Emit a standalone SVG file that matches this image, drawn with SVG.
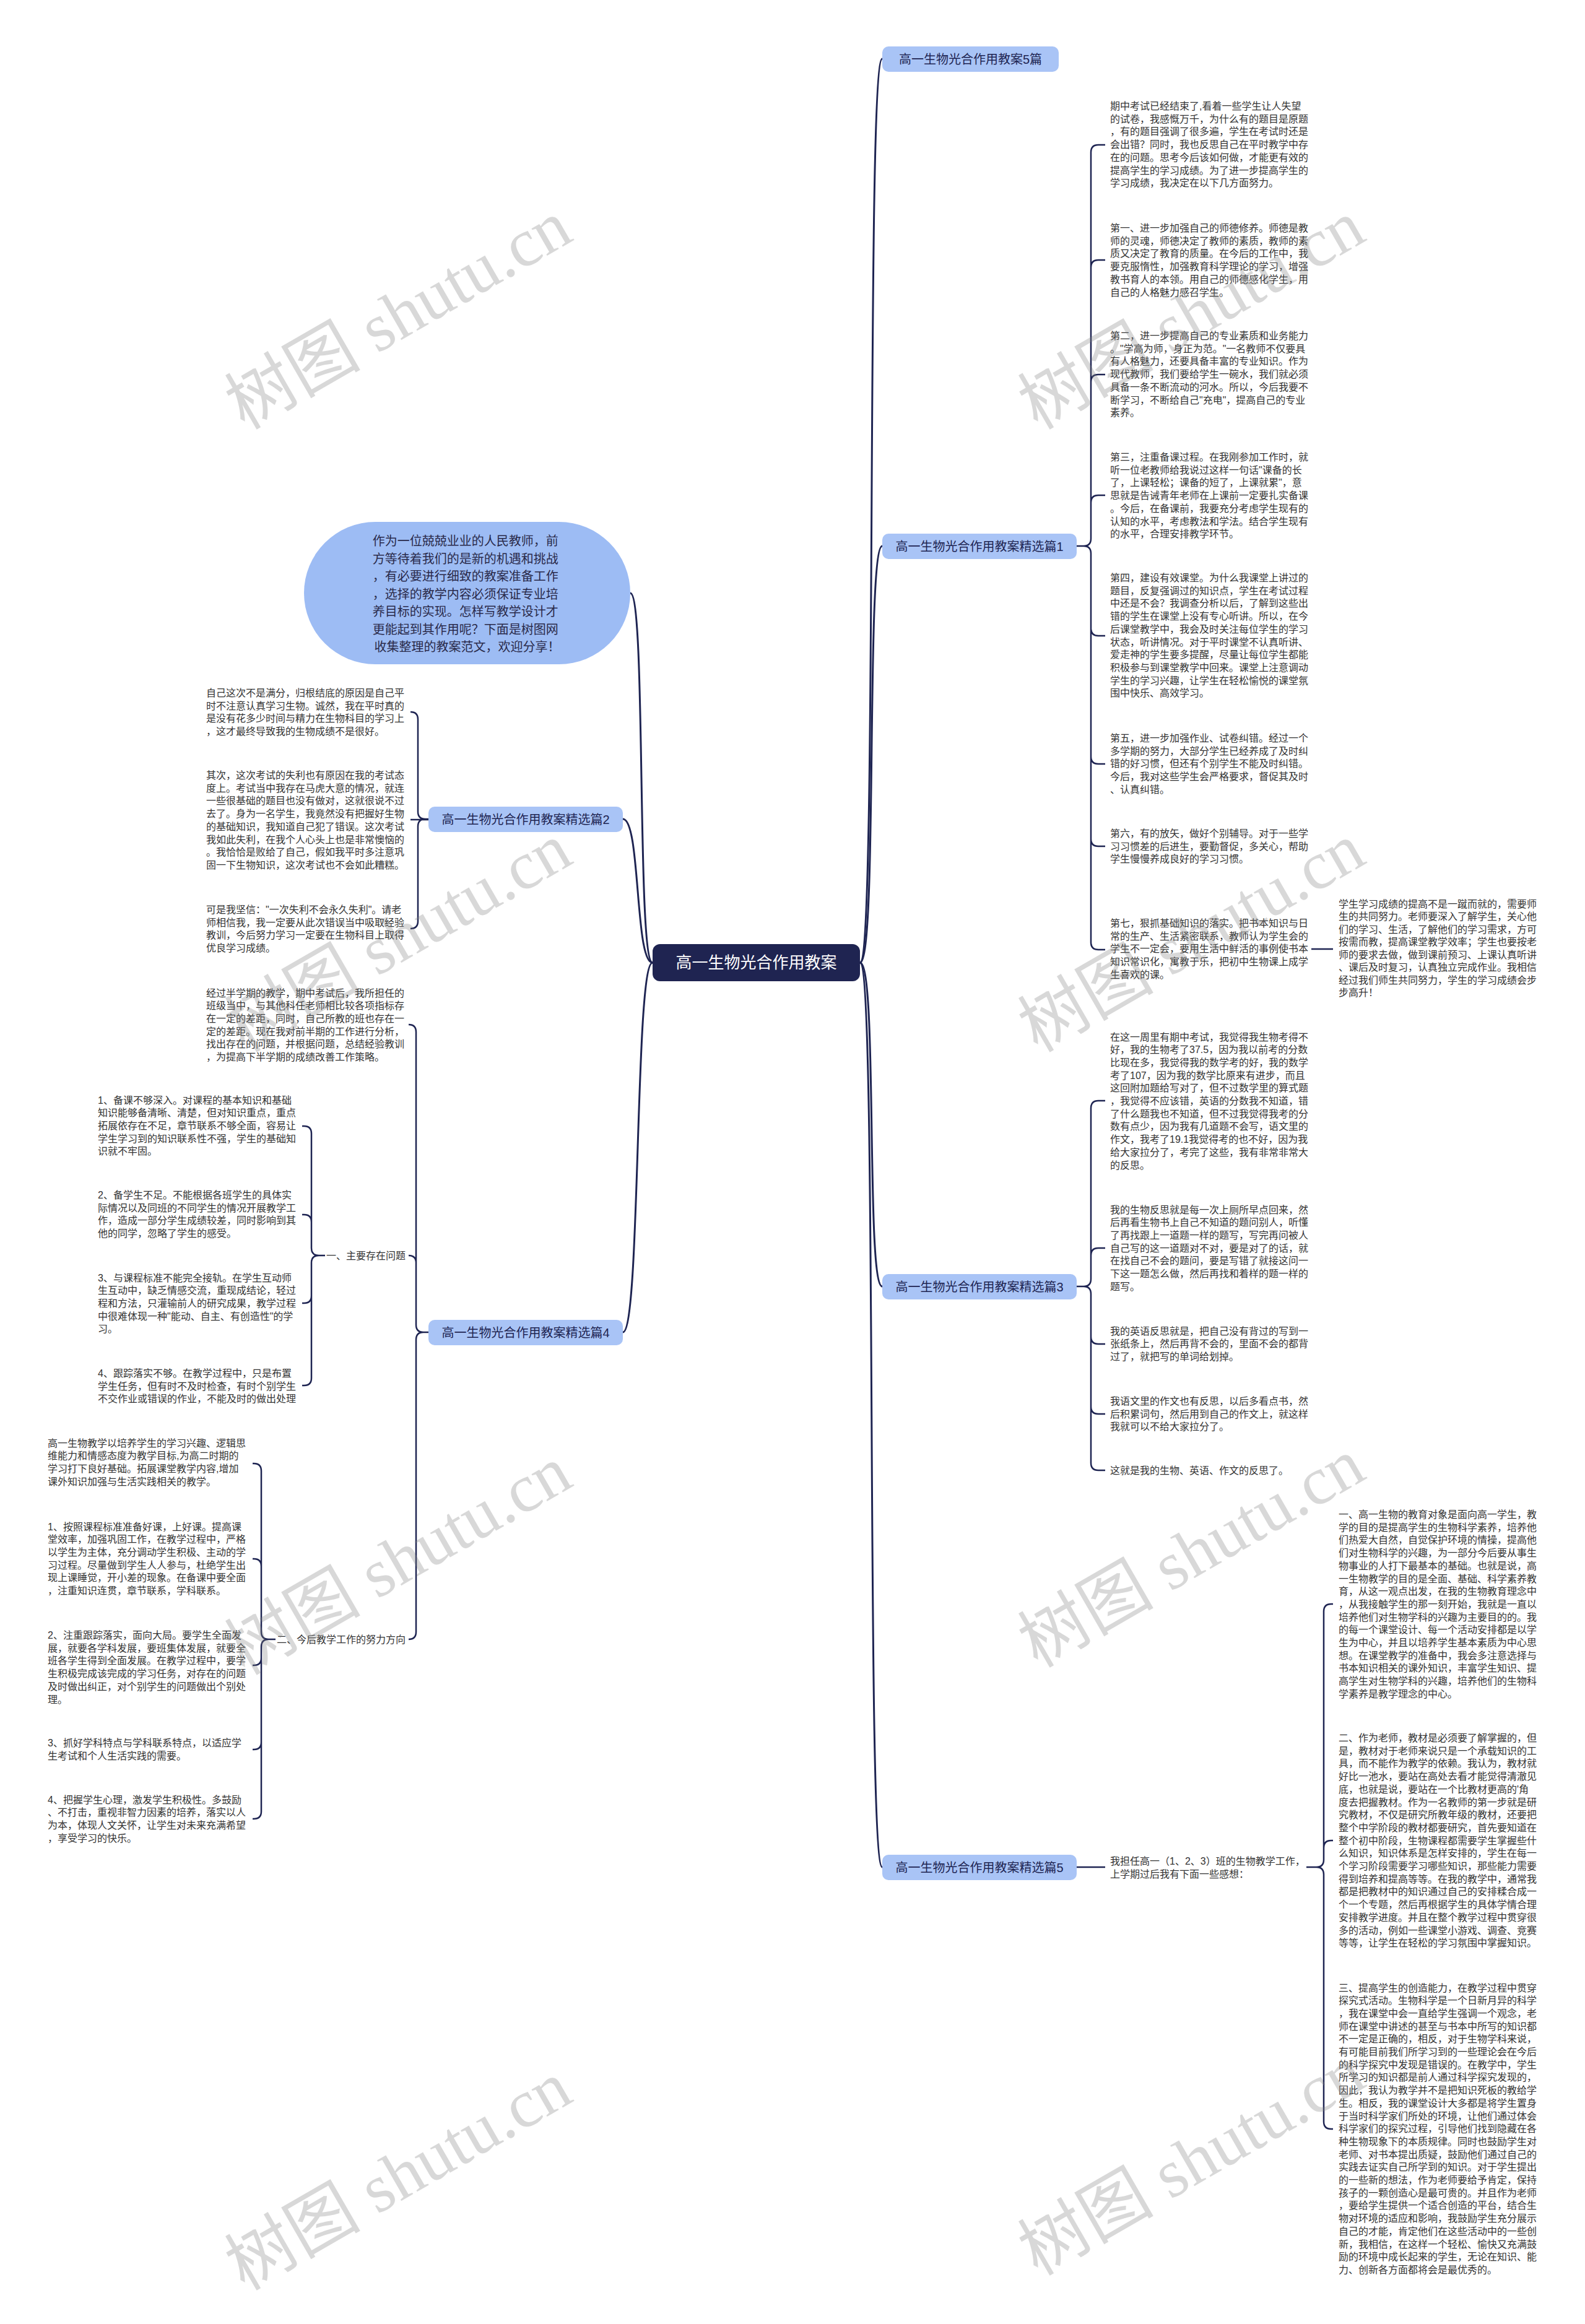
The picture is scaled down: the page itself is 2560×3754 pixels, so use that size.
<svg xmlns="http://www.w3.org/2000/svg" width="2560" height="3754" viewBox="0 0 2560 3754">
<style>
.t{font-family:"Liberation Sans","Noto Sans CJK SC",sans-serif;font-size:16px;fill:#333}
.b{font-family:"Liberation Sans","Noto Sans CJK SC",sans-serif;font-size:20px;fill:#1e2452}
.lbl{font-family:"Liberation Sans","Noto Sans CJK SC",sans-serif;font-size:16px;fill:#333;text-anchor:end}
.c{fill:none;stroke:#1e2452;stroke-width:3}
.c2{fill:none;stroke:#1e2452;stroke-width:2.5}
.node{fill:#a9c4f6}
.wm{font-family:"Liberation Serif","Noto Sans CJK SC",serif;font-size:110px;fill:#808080;opacity:0.3;text-anchor:middle}
</style>
<rect width="2560" height="3754" fill="#fff"/>
<g id="connectors">
<path class="c" d="M1389 1555C1418 1555 1398 95 1425 95"/>
<path class="c" d="M1389 1555C1418 1555 1398 882 1425 882"/>
<path class="c" d="M1389 1555C1418 1555 1398 2078 1425 2078"/>
<path class="c" d="M1389 1555C1418 1555 1398 3016 1425 3016"/>
<path class="c" d="M1054 1555C1028 1555 1044 958 1018 958"/>
<path class="c" d="M1054 1555C1025 1555 1035 1323 1006 1323"/>
<path class="c" d="M1054 1555C1025 1555 1035 2152 1006 2152"/>
<path class="c2" d="M1739 882H1750Q1762 882 1762 870V246Q1762 234 1774 234H1785M1762 432Q1762 420 1774 420H1785M1762 617Q1762 605 1774 605H1785M1762 812Q1762 800 1774 800H1785M1739 882H1750Q1762 882 1762 894V1522Q1762 1534 1774 1534H1785M1762 1015Q1762 1027 1774 1027H1785M1762 1222Q1762 1234 1774 1234H1785M1762 1355Q1762 1367 1774 1367H1785"/>
<path class="c2" d="M2118 1533H2153"/>
<path class="c2" d="M1739 2078H1750Q1762 2078 1762 2066V1790Q1762 1778 1774 1778H1785M1762 2028Q1762 2016 1774 2016H1785M1739 2078H1750Q1762 2078 1762 2090V2363Q1762 2375 1774 2375H1785M1762 2159Q1762 2171 1774 2171H1785M1762 2272Q1762 2284 1774 2284H1785"/>
<path class="c2" d="M1739 3016H1785"/>
<path class="c2" d="M2110 3016H2126Q2138 3016 2138 3004V2603Q2138 2591 2150 2591H2153M2138 2985Q2138 2973 2150 2973H2153M2110 3016H2126Q2138 3016 2138 3028V3427Q2138 3439 2150 3439H2153"/>
<path class="c2" d="M692 1323H687Q675 1323 675 1311V1162Q675 1150 663 1150M692 1323H687Q675 1323 675 1335V1488Q675 1500 663 1500M692 1324H663"/>
<path class="c2" d="M692 2152H684Q672 2152 672 2140V1667Q672 1655 660 1655M672 2040Q672 2028 660 2028M692 2152H684Q672 2152 672 2164V2636Q672 2648 660 2648"/>
<path class="c2" d="M525 2028H515Q503 2028 503 2016V1831Q503 1819 491 1819H488M503 1974Q503 1962 491 1962H488M525 2028H515Q503 2028 503 2040V2226Q503 2238 491 2238H488M503 2093Q503 2105 491 2105H488"/>
<path class="c2" d="M445 2648H434Q422 2648 422 2636V2376Q422 2364 410 2364H408M422 2530Q422 2518 410 2518H408M445 2648H434Q422 2648 422 2660V2926Q422 2938 410 2938H408M422 2678Q422 2690 410 2690H408M422 2814Q422 2826 410 2826H408"/>
</g>
<g id="root">
<rect x="1054" y="1525" width="335" height="60" rx="12" fill="#1f2451"/>
<text x="1221.5" y="1564" text-anchor="middle" style="font-family:'Liberation Sans','Noto Sans CJK SC',sans-serif;font-size:26px;fill:#fff">高一生物光合作用教案</text>
</g>
<g id="intro">
<rect x="491" y="843" width="527" height="230" rx="115" fill="#9dbcf4"/>
<text style="font-family:'Liberation Sans','Noto Sans CJK SC',sans-serif;font-size:20px;fill:#2a2a4a" text-anchor="middle">
<tspan x="754.5" y="881">作为一位兢兢业业的人民教师，前</tspan>
<tspan x="754.5" y="909.5">方等待着我们的是新的机遇和挑战</tspan>
<tspan x="754.5" y="938">，有必要进行细致的教案准备工作</tspan>
<tspan x="754.5" y="966.5">，选择的教学内容必须保证专业培</tspan>
<tspan x="754.5" y="995">养目标的实现。怎样写教学设计才</tspan>
<tspan x="754.5" y="1023.5">更能起到其作用呢？下面是树图网</tspan>
<tspan x="754.5" y="1052">收集整理的教案范文，欢迎分享！</tspan>
</text>
</g>
<g id="b5p">
<rect class="node" x="1425" y="75" width="285" height="41" rx="10"/>
<text class="b" x="1567.5" y="102.5" text-anchor="middle">高一生物光合作用教案5篇</text>
</g>
<g id="b1">
<rect class="node" x="1425" y="862" width="314" height="41" rx="10"/>
<text class="b" x="1582" y="889.5" text-anchor="middle">高一生物光合作用教案精选篇1</text>
</g>
<g id="b3">
<rect class="node" x="1425" y="2058" width="314" height="41" rx="10"/>
<text class="b" x="1582" y="2085.5" text-anchor="middle">高一生物光合作用教案精选篇3</text>
</g>
<g id="b5">
<rect class="node" x="1425" y="2996" width="314" height="41" rx="10"/>
<text class="b" x="1582" y="3023.5" text-anchor="middle">高一生物光合作用教案精选篇5</text>
</g>
<g id="b2">
<rect class="node" x="692" y="1303" width="314" height="41" rx="10"/>
<text class="b" x="849" y="1330.5" text-anchor="middle">高一生物光合作用教案精选篇2</text>
</g>
<g id="b4">
<rect class="node" x="692" y="2132" width="314" height="41" rx="10"/>
<text class="b" x="849" y="2159.5" text-anchor="middle">高一生物光合作用教案精选篇4</text>
</g>
<g id="p1a"><text class="t" x="1793" y="177"><tspan x="1793" dy="0">期中考试已经结束了,看着一些学生让人失望</tspan><tspan x="1793" dy="20.7">的试卷，我感慨万千，为什么有的题目是原题</tspan><tspan x="1793" dy="20.7">，有的题目强调了很多遍，学生在考试时还是</tspan><tspan x="1793" dy="20.7">会出错？同时，我也反思自己在平时教学中存</tspan><tspan x="1793" dy="20.7">在的问题。思考今后该如何做，才能更有效的</tspan><tspan x="1793" dy="20.7">提高学生的学习成绩。为了进一步提高学生的</tspan><tspan x="1793" dy="20.7">学习成绩，我决定在以下几方面努力。</tspan></text></g>
<g id="p1b"><text class="t" x="1793" y="374"><tspan x="1793" dy="0">第一、进一步加强自己的师德修养。师德是教</tspan><tspan x="1793" dy="20.7">师的灵魂，师德决定了教师的素质，教师的素</tspan><tspan x="1793" dy="20.7">质又决定了教育的质量。在今后的工作中，我</tspan><tspan x="1793" dy="20.7">要克服惰性，加强教育科学理论的学习，增强</tspan><tspan x="1793" dy="20.7">教书育人的本领。用自己的师德感化学生，用</tspan><tspan x="1793" dy="20.7">自己的人格魅力感召学生。</tspan></text></g>
<g id="p1c"><text class="t" x="1793" y="548"><tspan x="1793" dy="0">第二，进一步提高自己的专业素质和业务能力</tspan><tspan x="1793" dy="20.7">。"学高为师，身正为范。"一名教师不仅要具</tspan><tspan x="1793" dy="20.7">有人格魅力，还要具备丰富的专业知识。作为</tspan><tspan x="1793" dy="20.7">现代教师，我们要给学生一碗水，我们就必须</tspan><tspan x="1793" dy="20.7">具备一条不断流动的河水。所以，今后我要不</tspan><tspan x="1793" dy="20.7">断学习，不断给自己"充电"，提高自己的专业</tspan><tspan x="1793" dy="20.7">素养。</tspan></text></g>
<g id="p1d"><text class="t" x="1793" y="744"><tspan x="1793" dy="0">第三，注重备课过程。在我刚参加工作时，就</tspan><tspan x="1793" dy="20.7">听一位老教师给我说过这样一句话"课备的长</tspan><tspan x="1793" dy="20.7">了，上课轻松；课备的短了，上课就累"，意</tspan><tspan x="1793" dy="20.7">思就是告诫青年老师在上课前一定要扎实备课</tspan><tspan x="1793" dy="20.7">。今后，在备课前，我要充分考虑学生现有的</tspan><tspan x="1793" dy="20.7">认知的水平，考虑教法和学法。结合学生现有</tspan><tspan x="1793" dy="20.7">的水平，合理安排教学环节。</tspan></text></g>
<g id="p1e"><text class="t" x="1793" y="939"><tspan x="1793" dy="0">第四，建设有效课堂。为什么我课堂上讲过的</tspan><tspan x="1793" dy="20.7">题目，反复强调过的知识点，学生在考试过程</tspan><tspan x="1793" dy="20.7">中还是不会？我调查分析以后，了解到这些出</tspan><tspan x="1793" dy="20.7">错的学生在课堂上没有专心听讲。所以，在今</tspan><tspan x="1793" dy="20.7">后课堂教学中，我会及时关注每位学生的学习</tspan><tspan x="1793" dy="20.7">状态，听讲情况。对于平时课堂不认真听讲、</tspan><tspan x="1793" dy="20.7">爱走神的学生要多提醒，尽量让每位学生都能</tspan><tspan x="1793" dy="20.7">积极参与到课堂教学中回来。课堂上注意调动</tspan><tspan x="1793" dy="20.7">学生的学习兴趣，让学生在轻松愉悦的课堂氛</tspan><tspan x="1793" dy="20.7">围中快乐、高效学习。</tspan></text></g>
<g id="p1f"><text class="t" x="1793" y="1198"><tspan x="1793" dy="0">第五，进一步加强作业、试卷纠错。经过一个</tspan><tspan x="1793" dy="20.7">多学期的努力，大部分学生已经养成了及时纠</tspan><tspan x="1793" dy="20.7">错的好习惯，但还有个别学生不能及时纠错。</tspan><tspan x="1793" dy="20.7">今后，我对这些学生会严格要求，督促其及时</tspan><tspan x="1793" dy="20.7">、认真纠错。</tspan></text></g>
<g id="p1g"><text class="t" x="1793" y="1352"><tspan x="1793" dy="0">第六，有的放矢，做好个别辅导。对于一些学</tspan><tspan x="1793" dy="20.7">习习惯差的后进生，要勤督促，多关心，帮助</tspan><tspan x="1793" dy="20.7">学生慢慢养成良好的学习习惯。</tspan></text></g>
<g id="p1h"><text class="t" x="1793" y="1497"><tspan x="1793" dy="0">第七，狠抓基础知识的落实。把书本知识与日</tspan><tspan x="1793" dy="20.7">常的生产、生活紧密联系，教师认为学生会的</tspan><tspan x="1793" dy="20.7">学生不一定会，要用生活中鲜活的事例使书本</tspan><tspan x="1793" dy="20.7">知识常识化，寓教于乐，把初中生物课上成学</tspan><tspan x="1793" dy="20.7">生喜欢的课。</tspan></text></g>
<g id="p1h1"><text class="t" x="2162" y="1465.5"><tspan x="2162" dy="0">学生学习成绩的提高不是一蹴而就的，需要师</tspan><tspan x="2162" dy="20.5">生的共同努力。老师要深入了解学生，关心他</tspan><tspan x="2162" dy="20.5">们的学习、生活，了解他们的学习需求，方可</tspan><tspan x="2162" dy="20.5">按需而教，提高课堂教学效率；学生也要按老</tspan><tspan x="2162" dy="20.5">师的要求去做，做到课前预习、上课认真听讲</tspan><tspan x="2162" dy="20.5">、课后及时复习，认真独立完成作业。我相信</tspan><tspan x="2162" dy="20.5">经过我们师生共同努力，学生的学习成绩会步</tspan><tspan x="2162" dy="20.5">步高升！</tspan></text></g>
<g id="p3a"><text class="t" x="1793" y="1680.5"><tspan x="1793" dy="0">在这一周里有期中考试，我觉得我生物考得不</tspan><tspan x="1793" dy="20.7">好，我的生物考了37.5，因为我以前考的分数</tspan><tspan x="1793" dy="20.7">比现在多，我觉得我的数学考的好，我的数学</tspan><tspan x="1793" dy="20.7">考了107，因为我的数学比原来有进步，而且</tspan><tspan x="1793" dy="20.7">这回附加题给写对了，但不过数学里的算式题</tspan><tspan x="1793" dy="20.7">，我觉得不应该错，英语的分数我不知道，错</tspan><tspan x="1793" dy="20.7">了什么题我也不知道，但不过我觉得我考的分</tspan><tspan x="1793" dy="20.7">数有点少，因为我有几道题不会写，语文里的</tspan><tspan x="1793" dy="20.7">作文，我考了19.1我觉得考的也不好，因为我</tspan><tspan x="1793" dy="20.7">给大家拉分了，考完了这些，我有非常非常大</tspan><tspan x="1793" dy="20.7">的反思。</tspan></text></g>
<g id="p3b"><text class="t" x="1793" y="1959.5"><tspan x="1793" dy="0">我的生物反思就是每一次上厕所早点回来，然</tspan><tspan x="1793" dy="20.7">后再看生物书上自己不知道的题问别人，听懂</tspan><tspan x="1793" dy="20.7">了再找跟上一道题一样的题写，写完再问被人</tspan><tspan x="1793" dy="20.7">自己写的这一道题对不对，要是对了的话，就</tspan><tspan x="1793" dy="20.7">在找自己不会的题问，要是写错了就接这问一</tspan><tspan x="1793" dy="20.7">下这一题怎么做，然后再找和着样的题一样的</tspan><tspan x="1793" dy="20.7">题写。</tspan></text></g>
<g id="p3c"><text class="t" x="1793" y="2155.5"><tspan x="1793" dy="0">我的英语反思就是，把自己没有背过的写到一</tspan><tspan x="1793" dy="20.7">张纸条上，然后再背不会的，里面不会的都背</tspan><tspan x="1793" dy="20.7">过了，就把写的单词给划掉。</tspan></text></g>
<g id="p3d"><text class="t" x="1793" y="2269"><tspan x="1793" dy="0">我语文里的作文也有反思，以后多看点书，然</tspan><tspan x="1793" dy="20.7">后积累词句，然后用到自己的作文上，就这样</tspan><tspan x="1793" dy="20.7">我就可以不给大家拉分了。</tspan></text></g>
<g id="p3e"><text class="t" x="1793" y="2380.5">这就是我的生物、英语、作文的反思了。</text></g>
<g id="p5a"><text class="t" x="1793" y="3011.5"><tspan x="1793" dy="0">我担任高一（1、2、3）班的生物教学工作，</tspan><tspan x="1793" dy="21">上学期过后我有下面一些感想：</tspan></text></g>
<g id="p5b"><text class="t" x="2162" y="2452"><tspan x="2162" dy="0">一、高一生物的教育对象是面向高一学生，教</tspan><tspan x="2162" dy="20.7">学的目的是提高学生的生物科学素养，培养他</tspan><tspan x="2162" dy="20.7">们热爱大自然，自觉保护环境的情操，提高他</tspan><tspan x="2162" dy="20.7">们对生物科学的兴趣，为一部分今后要从事生</tspan><tspan x="2162" dy="20.7">物事业的人打下最基本的基础。也就是说，高</tspan><tspan x="2162" dy="20.7">一生物教学的目的是全面、基础、科学素养教</tspan><tspan x="2162" dy="20.7">育，从这一观点出发，在我的生物教育理念中</tspan><tspan x="2162" dy="20.7">，从我接触学生的那一刻开始，我就是一直以</tspan><tspan x="2162" dy="20.7">培养他们对生物学科的兴趣为主要目的的。我</tspan><tspan x="2162" dy="20.7">的每一个课堂设计、每一个活动安排都是以学</tspan><tspan x="2162" dy="20.7">生为中心，并且以培养学生基本素质为中心思</tspan><tspan x="2162" dy="20.7">想。在课堂教学的准备中，我会多注意选择与</tspan><tspan x="2162" dy="20.7">书本知识相关的课外知识，丰富学生知识、提</tspan><tspan x="2162" dy="20.7">高学生对生物学科的兴趣，培养他们的生物科</tspan><tspan x="2162" dy="20.7">学素养是教学理念的中心。</tspan></text></g>
<g id="p5c"><text class="t" x="2162" y="2813"><tspan x="2162" dy="0">二、作为老师，教材是必须要了解掌握的，但</tspan><tspan x="2162" dy="20.7">是，教材对于老师来说只是一个承载知识的工</tspan><tspan x="2162" dy="20.7">具，而不能作为教学的依赖。我认为，教材就</tspan><tspan x="2162" dy="20.7">好比一池水，要站在高处去看才能觉得清澈见</tspan><tspan x="2162" dy="20.7">底，也就是说，要站在一个比教材更高的'角</tspan><tspan x="2162" dy="20.7">度去把握教材。作为一名教师的第一步就是研</tspan><tspan x="2162" dy="20.7">究教材，不仅是研究所教年级的教材，还要把</tspan><tspan x="2162" dy="20.7">整个中学阶段的教材都要研究，首先要知道在</tspan><tspan x="2162" dy="20.7">整个初中阶段，生物课程都需要学生掌握些什</tspan><tspan x="2162" dy="20.7">么知识，知识体系是怎样安排的，学生在每一</tspan><tspan x="2162" dy="20.7">个学习阶段需要学习哪些知识，那些能力需要</tspan><tspan x="2162" dy="20.7">得到培养和提高等等。在我的教学中，通常我</tspan><tspan x="2162" dy="20.7">都是把教材中的知识通过自己的安排糅合成一</tspan><tspan x="2162" dy="20.7">个一个专题，然后再根据学生的具体学情合理</tspan><tspan x="2162" dy="20.7">安排教学进度。并且在整个教学过程中贯穿很</tspan><tspan x="2162" dy="20.7">多的活动，例如一些课堂小游戏、调查、竞赛</tspan><tspan x="2162" dy="20.7">等等，让学生在轻松的学习氛围中掌握知识。</tspan></text></g>
<g id="p5d"><text class="t" x="2162" y="3216.5"><tspan x="2162" dy="0">三、提高学生的创造能力，在教学过程中贯穿</tspan><tspan x="2162" dy="20.7">探究式活动。生物科学是一个日新月异的科学</tspan><tspan x="2162" dy="20.7">，我在课堂中会一直给学生强调一个观念，老</tspan><tspan x="2162" dy="20.7">师在课堂中讲述的甚至与书本中所写的知识都</tspan><tspan x="2162" dy="20.7">不一定是正确的，相反，对于生物学科来说，</tspan><tspan x="2162" dy="20.7">有可能目前我们所学习到的一些理论会在今后</tspan><tspan x="2162" dy="20.7">的科学探究中发现是错误的。在教学中，学生</tspan><tspan x="2162" dy="20.7">所学习的知识都是前人通过科学探究发现的，</tspan><tspan x="2162" dy="20.7">因此，我认为教学并不是把知识死板的教给学</tspan><tspan x="2162" dy="20.7">生。相反，我的课堂设计大多都是将学生置身</tspan><tspan x="2162" dy="20.7">于当时科学家们所处的环境，让他们通过体会</tspan><tspan x="2162" dy="20.7">科学家们的探究过程，引导他们找到隐藏在各</tspan><tspan x="2162" dy="20.7">种生物现象下的本质规律。同时也鼓励学生对</tspan><tspan x="2162" dy="20.7">老师、对书本提出质疑，鼓励他们通过自己的</tspan><tspan x="2162" dy="20.7">实践去证实自己所学到的知识。对于学生提出</tspan><tspan x="2162" dy="20.7">的一些新的想法，作为老师要给予肯定，保持</tspan><tspan x="2162" dy="20.7">孩子的一颗创造心是最可贵的。并且作为老师</tspan><tspan x="2162" dy="20.7">，要给学生提供一个适合创造的平台，结合生</tspan><tspan x="2162" dy="20.7">物对环境的适应和影响，我鼓励学生充分展示</tspan><tspan x="2162" dy="20.7">自己的才能，肯定他们在这些活动中的一些创</tspan><tspan x="2162" dy="20.7">新，我相信，在这样一个轻松、愉快又充满鼓</tspan><tspan x="2162" dy="20.7">励的环境中成长起来的学生，无论在知识、能</tspan><tspan x="2162" dy="20.7">力、创新各方面都将会是最优秀的。</tspan></text></g>
<g id="p2a"><text class="t" x="333" y="1125"><tspan x="333" dy="0">自己这次不是满分，归根结底的原因是自己平</tspan><tspan x="333" dy="20.7">时不注意认真学习生物。诚然，我在平时真的</tspan><tspan x="333" dy="20.7">是没有花多少时间与精力在生物科目的学习上</tspan><tspan x="333" dy="20.7">，这才最终导致我的生物成绩不是很好。</tspan></text></g>
<g id="p2b"><text class="t" x="333" y="1258"><tspan x="333" dy="0">其次，这次考试的失利也有原因在我的考试态</tspan><tspan x="333" dy="20.7">度上。考试当中我存在马虎大意的情况，就连</tspan><tspan x="333" dy="20.7">一些很基础的题目也没有做对，这就很说不过</tspan><tspan x="333" dy="20.7">去了。身为一名学生，我竟然没有把握好生物</tspan><tspan x="333" dy="20.7">的基础知识，我知道自己犯了错误。这次考试</tspan><tspan x="333" dy="20.7">我如此失利，在我个人心头上也是非常懊恼的</tspan><tspan x="333" dy="20.7">。我恰恰是败给了自己，假如我平时多注意巩</tspan><tspan x="333" dy="20.7">固一下生物知识，这次考试也不会如此糟糕。</tspan></text></g>
<g id="p2c"><text class="t" x="333" y="1475"><tspan x="333" dy="0">可是我坚信："一次失利不会永久失利"。请老</tspan><tspan x="333" dy="20.7">师相信我，我一定要从此次错误当中吸取经验</tspan><tspan x="333" dy="20.7">教训，今后努力学习一定要在生物科目上取得</tspan><tspan x="333" dy="20.7">优良学习成绩。</tspan></text></g>
<g id="p4a"><text class="t" x="333" y="1609.5"><tspan x="333" dy="0">经过半学期的教学，期中考试后，我所担任的</tspan><tspan x="333" dy="20.7">班级当中，与其他科任老师相比较各项指标存</tspan><tspan x="333" dy="20.7">在一定的差距，同时，自己所教的班也存在一</tspan><tspan x="333" dy="20.7">定的差距。现在我对前半期的工作进行分析，</tspan><tspan x="333" dy="20.7">找出存在的问题，并根据问题，总结经验教训</tspan><tspan x="333" dy="20.7">，为提高下半学期的成绩改善工作策略。</tspan></text></g>
<g id="p4b"><text class="lbl" x="655" y="2033.5">一、主要存在问题</text></g>
<g id="p4c"><text class="lbl" x="655" y="2653.5">二、今后教学工作的努力方向</text></g>
<g id="s1"><text class="t" x="158" y="1782.5"><tspan x="158" dy="0">1、备课不够深入。对课程的基本知识和基础</tspan><tspan x="158" dy="20.7">知识能够备清晰、清楚，但对知识重点，重点</tspan><tspan x="158" dy="20.7">拓展依存在不足，章节联系不够全面，容易让</tspan><tspan x="158" dy="20.7">学生学习到的知识联系性不强，学生的基础知</tspan><tspan x="158" dy="20.7">识就不牢固。</tspan></text></g>
<g id="s2"><text class="t" x="158" y="1936"><tspan x="158" dy="0">2、备学生不足。不能根据各班学生的具体实</tspan><tspan x="158" dy="20.7">际情况以及同班的不同学生的情况开展教学工</tspan><tspan x="158" dy="20.7">作，造成一部分学生成绩较差，同时影响到其</tspan><tspan x="158" dy="20.7">他的同学，忽略了学生的感受。</tspan></text></g>
<g id="s3"><text class="t" x="158" y="2069.5"><tspan x="158" dy="0">3、与课程标准不能完全接轨。在学生互动师</tspan><tspan x="158" dy="20.7">生互动中，缺乏情感交流，重现成结论，轻过</tspan><tspan x="158" dy="20.7">程和方法，只灌输前人的研究成果，教学过程</tspan><tspan x="158" dy="20.7">中很难体现一种"能动、自主、有创造性"的学</tspan><tspan x="158" dy="20.7">习。</tspan></text></g>
<g id="s4"><text class="t" x="158" y="2224"><tspan x="158" dy="0">4、跟踪落实不够。在教学过程中，只是布置</tspan><tspan x="158" dy="20.7">学生任务，但有时不及时检查，有时个别学生</tspan><tspan x="158" dy="20.7">不交作业或错误的作业，不能及时的做出处理</tspan></text></g>
<g id="t1"><text class="t" x="77" y="2336.5"><tspan x="77" dy="0">高一生物教学以培养学生的学习兴趣、逻辑思</tspan><tspan x="77" dy="20.7">维能力和情感态度为教学目标,为高二时期的</tspan><tspan x="77" dy="20.7">学习打下良好基础。拓展课堂教学内容,增加</tspan><tspan x="77" dy="20.7">课外知识加强与生活实践相关的教学。</tspan></text></g>
<g id="t2"><text class="t" x="77" y="2471.5"><tspan x="77" dy="0">1、按照课程标准准备好课，上好课。提高课</tspan><tspan x="77" dy="20.7">堂效率，加强巩固工作，在教学过程中，严格</tspan><tspan x="77" dy="20.7">以学生为主体，充分调动学生积极、主动的学</tspan><tspan x="77" dy="20.7">习过程。尽量做到学生人人参与，杜绝学生出</tspan><tspan x="77" dy="20.7">现上课睡觉，开小差的现象。在备课中要全面</tspan><tspan x="77" dy="20.7">，注重知识连贯，章节联系，学科联系。</tspan></text></g>
<g id="t3"><text class="t" x="77" y="2647"><tspan x="77" dy="0">2、注重跟踪落实，面向大局。要学生全面发</tspan><tspan x="77" dy="20.7">展，就要各学科发展，要班集体发展，就要全</tspan><tspan x="77" dy="20.7">班各学生得到全面发展。在教学过程中，要学</tspan><tspan x="77" dy="20.7">生积极完成该完成的学习任务，对存在的问题</tspan><tspan x="77" dy="20.7">及时做出纠正，对个别学生的问题做出个别处</tspan><tspan x="77" dy="20.7">理。</tspan></text></g>
<g id="t4"><text class="t" x="77" y="2821"><tspan x="77" dy="0">3、抓好学科特点与学科联系特点，以适应学</tspan><tspan x="77" dy="20.7">生考试和个人生活实践的需要。</tspan></text></g>
<g id="t5"><text class="t" x="77" y="2912.5"><tspan x="77" dy="0">4、把握学生心理，激发学生积极性。多鼓励</tspan><tspan x="77" dy="20.7">、不打击，重视非智力因素的培养，落实以人</tspan><tspan x="77" dy="20.7">为本，体现人文关怀，让学生对未来充满希望</tspan><tspan x="77" dy="20.7">，享受学习的快乐。</tspan></text></g>
<g id="watermarks">
<text class="wm" x="647" y="545" transform="rotate(-30 647 515)">树图 shutu.cn</text>
<text class="wm" x="1928" y="545" transform="rotate(-30 1928 515)">树图 shutu.cn</text>
<text class="wm" x="647" y="1551" transform="rotate(-30 647 1521)">树图 shutu.cn</text>
<text class="wm" x="1928" y="1551" transform="rotate(-30 1928 1521)">树图 shutu.cn</text>
<text class="wm" x="647" y="2557" transform="rotate(-30 647 2527)">树图 shutu.cn</text>
<text class="wm" x="1928" y="2545" transform="rotate(-30 1928 2515)">树图 shutu.cn</text>
<text class="wm" x="647" y="3551" transform="rotate(-30 647 3521)">树图 shutu.cn</text>
<text class="wm" x="1928" y="3527" transform="rotate(-30 1928 3497)">树图 shutu.cn</text>
</g>
</svg>
